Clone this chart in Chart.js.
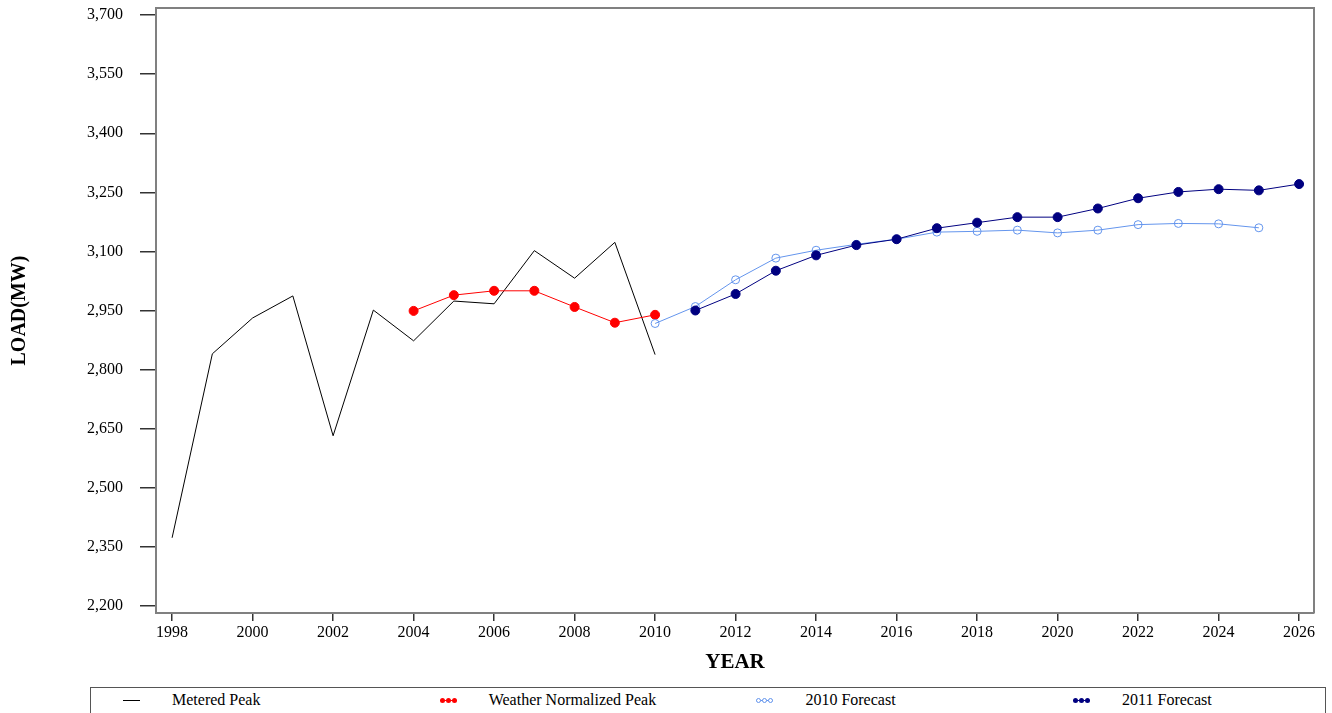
<!DOCTYPE html>
<html>
<head>
<meta charset="utf-8">
<script src="https://cdn.jsdelivr.net/npm/chart.js@4"></script>
<style>
  body { margin: 0; background: #fff; }
  #wrap { position: relative; width: 1332px; height: 713px; }
  #legend {
    position: absolute; left: 90px; top: 687px; width: 1236px; height: 30px;
    border: 1px solid #555; box-sizing: border-box;
    font: 16px "Liberation Serif", "Times New Roman", serif; color: #000;
  }
  .item { position: absolute; top: 0; height: 26px; }
  .sym { position: absolute; left: 0; top: 12px; width: 17px; height: 0; border-top: 1px solid #000; }
  .dot { position: absolute; top: -3px; width: 5px; height: 5px; border-radius: 50%; box-sizing: border-box; }
  .txt { position: absolute; left: 49px; top: 0; line-height: 24px; white-space: nowrap; }
</style>
</head>
<body>
<div id="wrap">
  <canvas id="myChart" width="1332" height="685"></canvas>
  <div id="legend"></div>
</div>
<script>
const meteredYears = [1998, 1999, 2000, 2001, 2002, 2003, 2004, 2005, 2006, 2007, 2008, 2009, 2010];
const meteredPeak = [2373, 2840, 2931, 2987, 2632, 2951, 2873, 2974, 2967, 3102, 3032, 3123, 2838];

const normalizedYears = [2004, 2005, 2006, 2007, 2008, 2009, 2010];
const normalizedPeak = [2949, 2989, 3000, 3000, 2959, 2919, 2939];

const forecast2010Years = [2010, 2011, 2012, 2013, 2014, 2015, 2016, 2017, 2018, 2019, 2020, 2021, 2022, 2023, 2024, 2025];
const forecast2010 = [2917, 2960, 3028, 3083, 3103, 3118, 3131, 3149, 3151, 3154, 3147, 3154, 3168, 3171, 3170, 3160];

const forecast2011Years = [2011, 2012, 2013, 2014, 2015, 2016, 2017, 2018, 2019, 2020, 2021, 2022, 2023, 2024, 2025, 2026];
const forecast2011 = [2950, 2992, 3051, 3090, 3116, 3131, 3159, 3173, 3187, 3187, 3209, 3235, 3251, 3258, 3255, 3271];

const yearTicks = [1998, 2000, 2002, 2004, 2006, 2008, 2010, 2012, 2014, 2016, 2018, 2020, 2022, 2024, 2026];
const loadTicks = [2200, 2350, 2500, 2650, 2800, 2950, 3100, 3250, 3400, 3550, 3700];

const toPoints = (xs, ys) => xs.map((x, i) => ({ x: x, y: ys[i] }));

Chart.defaults.font.family = '"Liberation Serif", "Times New Roman", serif';
Chart.defaults.color = "#000";

// grey frame on top and right of the plot
const frame = {
  id: "frame",
  afterDraw(chart) {
    const { ctx, chartArea } = chart;
    ctx.save();
    ctx.strokeStyle = "#808080";
    ctx.lineWidth = 2;
    ctx.beginPath();
    ctx.moveTo(chartArea.left, chartArea.top);
    ctx.lineTo(chartArea.right, chartArea.top);
    ctx.lineTo(chartArea.right, chartArea.bottom);
    ctx.stroke();
    ctx.restore();
  },
};

const ctx = document.getElementById("myChart");

const chart = new Chart(ctx, {
  type: "line",
  data: {
    datasets: [
      {
        label: "Metered Peak",
        data: toPoints(meteredYears, meteredPeak),
        borderColor: "#000",
        borderWidth: 1,
        pointRadius: 0,
        order: 4,
        legendDots: 0,
      },
      {
        label: "Weather Normalized Peak",
        data: toPoints(normalizedYears, normalizedPeak),
        borderColor: "#ff0000",
        backgroundColor: "#ff0000",
        borderWidth: 1,
        pointRadius: 4.5,
        pointBackgroundColor: "#ff0000",
        pointBorderColor: "#ff0000",
        order: 3,
        legendDots: 1,
      },
      {
        label: "2010 Forecast",
        data: toPoints(forecast2010Years, forecast2010),
        borderColor: "#6495ed",
        borderWidth: 1,
        pointRadius: 4,
        pointBorderWidth: 1,
        pointBackgroundColor: "rgba(255,255,255,0)",
        pointBorderColor: "#6495ed",
        order: 2,
        legendDots: 2,
      },
      {
        label: "2011 Forecast",
        data: toPoints(forecast2011Years, forecast2011),
        borderColor: "#000080",
        borderWidth: 1,
        pointRadius: 4.5,
        pointBackgroundColor: "#000080",
        pointBorderColor: "#000080",
        order: 1,
        legendDots: 1,
      },
    ],
  },
  options: {
    responsive: false,
    animation: false,
    layout: { padding: { left: 0, right: 18, top: 8, bottom: 0 } },
    plugins: {
      legend: { display: false },
      tooltip: { enabled: false },
    },
    scales: {
      x: {
        type: "linear",
        min: 1997.6,
        max: 2026.37,
        afterBuildTicks: (axis) => {
          axis.ticks = yearTicks.map((v) => ({ value: v }));
        },
        afterFit: (scale) => {
          scale.height = 72;
          scale.paddingLeft = 0;
          scale.paddingRight = 0;
        },
        ticks: {
          autoSkip: false,
          maxRotation: 0,
          padding: 2,
          font: { size: 16 },
          callback: (v) => String(v),
        },
        grid: {
          drawOnChartArea: false,
          drawTicks: true,
          tickLength: 8,
          color: "#333",
          lineWidth: 1.5,
        },
        border: { color: "#808080", width: 2 },
        title: {
          display: true,
          text: "YEAR",
          font: { size: 21, weight: "bold" },
          padding: { top: 0, bottom: 10 },
        },
      },
      y: {
        min: 2182,
        max: 3718,
        afterBuildTicks: (axis) => {
          axis.ticks = loadTicks.map((v) => ({ value: v }));
        },
        afterFit: (scale) => {
          scale.width = 156;
          scale.paddingTop = 0;
          scale.paddingBottom = 0;
        },
        ticks: {
          padding: 17,
          font: { size: 16 },
          callback: (v) => v.toLocaleString("en-US"),
        },
        grid: {
          drawOnChartArea: false,
          drawTicks: true,
          tickLength: 16,
          color: "#333",
          lineWidth: 1.5,
        },
        border: { color: "#808080", width: 2 },
        title: {
          display: true,
          text: "LOAD(MW)",
          font: { size: 20, weight: "bold" },
          padding: { top: 8, bottom: 0 },
        },
      },
    },
  },
  plugins: [frame],
});

// legend box under the chart, built from the datasets
const legend = document.getElementById("legend");
chart.data.datasets.forEach((ds, i) => {
  const item = document.createElement("div");
  item.className = "item";
  item.style.left = 32 + i * 316.7 + "px";
  const sym = document.createElement("div");
  sym.className = "sym";
  sym.style.borderTopColor = ds.borderColor;
  if (ds.legendDots) {
    [0, 6, 12].forEach((x) => {
      const d = document.createElement("span");
      d.className = "dot";
      d.style.left = x + "px";
      if (ds.legendDots === 2) {
        d.style.border = "1px solid " + ds.borderColor;
        d.style.background = "#fff";
      } else {
        d.style.background = ds.borderColor;
      }
      sym.appendChild(d);
    });
  }
  const txt = document.createElement("span");
  txt.className = "txt";
  txt.textContent = ds.label;
  item.appendChild(sym);
  item.appendChild(txt);
  legend.appendChild(item);
});
</script>
</body>
</html>
